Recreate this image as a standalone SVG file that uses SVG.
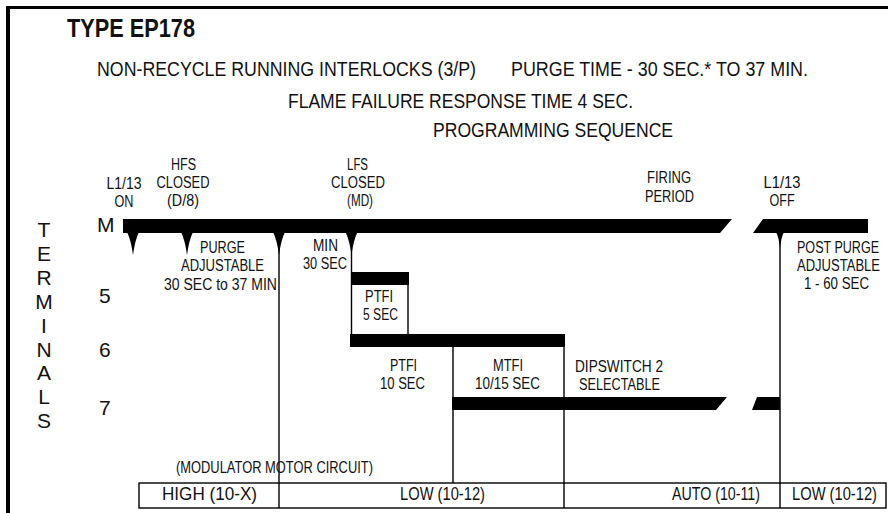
<svg xmlns="http://www.w3.org/2000/svg" width="888" height="513" viewBox="0 0 888 513">
<style>
text{font-family:"Liberation Sans",Arial,sans-serif;fill:#111}
.title{font-size:26px;font-weight:bold}
.h{font-size:21px}
.l{font-size:17px;text-anchor:middle}
.ls{font-size:17px}
.m{font-size:16px}
.n{font-size:21px}
.v{font-size:21px;text-anchor:middle}
.tb{font-size:17.5px;text-anchor:middle}
.bar{fill:#000}
.ln{stroke:#000;stroke-width:1.4;fill:none}
</style>
<defs>
<path id="tri" d="M-6,0 L6,0 Q2,8 0,23 Q-2,8 -6,0 Z" fill="#000"/>
<path id="tris" d="M-4,0 L4,0 Q1.3,5 0,16 Q-1.3,5 -4,0 Z" fill="#000"/>
</defs>
<g id="frame">
<rect x="6" y="6" width="882" height="3" fill="#000"/>
<rect x="6" y="6" width="4" height="507" fill="#000"/>
</g>
<g id="header">
<text class="title" transform="translate(67 37) scale(0.83 1)" textLength="154.2" lengthAdjust="spacingAndGlyphs">TYPE EP178</text>
<text class="h" transform="translate(97 76) scale(0.83 1)" textLength="456.6" lengthAdjust="spacingAndGlyphs">NON-RECYCLE RUNNING INTERLOCKS (3/P)</text>
<text class="h" transform="translate(511 76) scale(0.83 1)" textLength="357.8" lengthAdjust="spacingAndGlyphs">PURGE TIME - 30 SEC.* TO 37 MIN.</text>
<text class="h" transform="translate(288 108) scale(0.83 1)" textLength="415.7" lengthAdjust="spacingAndGlyphs">FLAME FAILURE RESPONSE TIME 4 SEC.</text>
<text class="h" transform="translate(433 137) scale(0.83 1)" textLength="289.2" lengthAdjust="spacingAndGlyphs">PROGRAMMING SEQUENCE</text>
</g>
<g id="terminals">
<text class="v" x="44" y="237">T</text>
<text class="v" x="44" y="261">E</text>
<text class="v" x="44" y="285">R</text>
<text class="v" x="44" y="309">M</text>
<text class="v" x="44" y="333">I</text>
<text class="v" x="44" y="357">N</text>
<text class="v" x="44" y="380">A</text>
<text class="v" x="44" y="404">L</text>
<text class="v" x="44" y="428">S</text>
<text class="n" x="97" y="232">M</text>
<text class="n" x="99" y="303">5</text>
<text class="n" x="99" y="357">6</text>
<text class="n" x="99" y="415">7</text>
</g>
<g id="connectors">
<line class="ln" x1="279" y1="240" x2="279" y2="508"/>
<line class="ln" x1="351.5" y1="240" x2="351.5" y2="334"/>
<line class="ln" x1="408" y1="285" x2="408" y2="334"/>
<line class="ln" x1="453" y1="334" x2="453" y2="483"/>
<line class="ln" x1="564" y1="347" x2="564" y2="508"/>
<line class="ln" x1="780" y1="240" x2="780" y2="508"/>
</g>
<g id="bar-M">
<polygon class="bar" points="123,219 732,219 720,233 123,233"/>
<polygon class="bar" points="763,219 868,219 868,233 753,233"/>
<use href="#tri" x="133" y="232"/>
<use href="#tri" x="187" y="232"/>
<use href="#tri" x="279" y="232"/>
<use href="#tri" x="351.5" y="232"/>
<use href="#tris" x="780" y="232"/>
</g>
<g id="bar-5"><rect class="bar" x="351" y="272" width="58" height="13"/></g>
<g id="bar-6"><rect class="bar" x="350" y="334" width="215" height="13"/></g>
<g id="bar-7">
<polygon class="bar" points="452,397 727,397 716,410 452,410"/>
<polygon class="bar" points="757,397 780,397 780,410 752,410"/>
</g>
<g id="labels">
<text class="l" transform="translate(124 189) scale(0.76 1)" textLength="46" lengthAdjust="spacingAndGlyphs">L1/13</text>
<text class="l" transform="translate(124 207) scale(0.76 1)" textLength="25" lengthAdjust="spacingAndGlyphs">ON</text>
<text class="l" transform="translate(183.5 170) scale(0.76 1)" textLength="33" lengthAdjust="spacingAndGlyphs">HFS</text>
<text class="l" transform="translate(183 188) scale(0.76 1)" textLength="69.7" lengthAdjust="spacingAndGlyphs">CLOSED</text>
<text class="l" transform="translate(183 206) scale(0.76 1)" textLength="42" lengthAdjust="spacingAndGlyphs">(D/8)</text>
<text class="l" transform="translate(357.5 170) scale(0.76 1)" textLength="27.6" lengthAdjust="spacingAndGlyphs">LFS</text>
<text class="l" transform="translate(358 188) scale(0.76 1)" textLength="71" lengthAdjust="spacingAndGlyphs">CLOSED</text>
<text class="l" transform="translate(360 206) scale(0.76 1)" textLength="34.2" lengthAdjust="spacingAndGlyphs">(MD)</text>
<text class="l" transform="translate(669 183) scale(0.76 1)" textLength="57.9" lengthAdjust="spacingAndGlyphs">FIRING</text>
<text class="l" transform="translate(669.5 202) scale(0.76 1)" textLength="64.5" lengthAdjust="spacingAndGlyphs">PERIOD</text>
<text class="l" transform="translate(782 188) scale(0.76 1)" textLength="48.7" lengthAdjust="spacingAndGlyphs">L1/13</text>
<text class="l" transform="translate(782 206) scale(0.76 1)" textLength="33" lengthAdjust="spacingAndGlyphs">OFF</text>
<text class="l" transform="translate(222.5 253) scale(0.76 1)" textLength="59.2" lengthAdjust="spacingAndGlyphs">PURGE</text>
<text class="l" transform="translate(222.5 271) scale(0.76 1)" textLength="109.2" lengthAdjust="spacingAndGlyphs">ADJUSTABLE</text>
<text class="l" transform="translate(220.5 290) scale(0.76 1)" textLength="148.7" lengthAdjust="spacingAndGlyphs">30 SEC to 37 MIN</text>
<text class="l" transform="translate(325.5 251) scale(0.76 1)" textLength="32.9" lengthAdjust="spacingAndGlyphs">MIN</text>
<text class="l" transform="translate(325 269) scale(0.76 1)" textLength="57.9" lengthAdjust="spacingAndGlyphs">30 SEC</text>
<text class="l" transform="translate(379 302) scale(0.76 1)" textLength="36.8" lengthAdjust="spacingAndGlyphs">PTFI</text>
<text class="l" transform="translate(380.5 320) scale(0.76 1)" textLength="46" lengthAdjust="spacingAndGlyphs">5 SEC</text>
<text class="l" transform="translate(403.5 371) scale(0.76 1)" textLength="35.5" lengthAdjust="spacingAndGlyphs">PTFI</text>
<text class="l" transform="translate(402.5 389) scale(0.76 1)" textLength="59.2" lengthAdjust="spacingAndGlyphs">10 SEC</text>
<text class="l" transform="translate(508 371) scale(0.76 1)" textLength="39.5" lengthAdjust="spacingAndGlyphs">MTFI</text>
<text class="l" transform="translate(507.5 389) scale(0.76 1)" textLength="85.5" lengthAdjust="spacingAndGlyphs">10/15 SEC</text>
<text class="ls" transform="translate(575 372) scale(0.76 1)" textLength="115.8" lengthAdjust="spacingAndGlyphs">DIPSWITCH 2</text>
<text class="ls" transform="translate(579 390) scale(0.76 1)" textLength="106.6" lengthAdjust="spacingAndGlyphs">SELECTABLE</text>
<text class="l" transform="translate(838 253) scale(0.76 1)" textLength="107.9" lengthAdjust="spacingAndGlyphs">POST PURGE</text>
<text class="l" transform="translate(838.5 271) scale(0.76 1)" textLength="109.2" lengthAdjust="spacingAndGlyphs">ADJUSTABLE</text>
<text class="l" transform="translate(836.5 289) scale(0.76 1)" textLength="85.5" lengthAdjust="spacingAndGlyphs">1 - 60 SEC</text>
</g>
<g id="table">
<text class="m" transform="translate(176 473) scale(0.8 1)" textLength="246.2" lengthAdjust="spacingAndGlyphs">(MODULATOR MOTOR CIRCUIT)</text>
<rect class="ln" x="139" y="483" width="747" height="25"/>
<text class="tb" transform="translate(209.5 500) scale(0.85 1)" textLength="111.8" lengthAdjust="spacingAndGlyphs">HIGH (10-X)</text>
<text class="tb" transform="translate(442.5 500) scale(0.85 1)" textLength="100" lengthAdjust="spacingAndGlyphs">LOW (10-12)</text>
<text class="tb" transform="translate(716 500) scale(0.85 1)" textLength="103.5" lengthAdjust="spacingAndGlyphs">AUTO (10-11)</text>
<text class="tb" transform="translate(834.5 500) scale(0.85 1)" textLength="100" lengthAdjust="spacingAndGlyphs">LOW (10-12)</text>
</g>
</svg>
